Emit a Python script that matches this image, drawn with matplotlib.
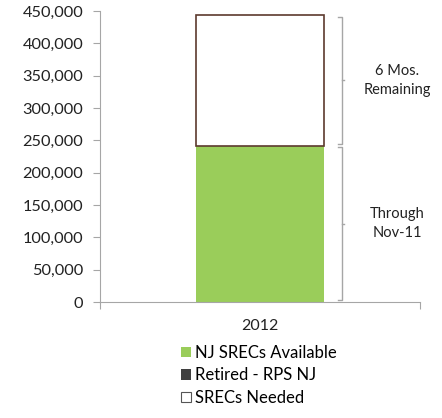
import matplotlib
matplotlib.use("Agg")
import matplotlib.pyplot as plt
from matplotlib.patches import Patch
from matplotlib.ticker import FuncFormatter

plt.rcParams['font.family'] = ['Lato', 'DejaVu Sans']

categories = ["2012"]
available = [242000]
retired = [0]
needed = [201500]
bracket_labels = ["Through\nNov-11", "6 Mos.\nRemaining"]
legend_labels = ["NJ SRECs Available", "Retired - RPS NJ", "SRECs Needed"]

green = "#9acd5a"
dark = "#404040"
edge = "#5c3a2e"
gray = "#a6a6a6"

fig = plt.figure(figsize=(4.42, 4.18), dpi=100)
ax = fig.add_axes([100/442, 1-302/418, 320/442, 291/418])

x = list(range(len(categories)))
ax.bar(x, available, width=0.4, color=green, edgecolor='none', zorder=2)
bottom2 = [a + r for a, r in zip(available, retired)]
ax.bar(x, retired, width=0.4, bottom=available, color=dark, edgecolor='none', zorder=2)
ax.bar(x, needed, width=0.4, bottom=bottom2, facecolor='white', edgecolor=edge, linewidth=1.2, zorder=2)

ax.set_xlim(-0.5, 0.5)
ax.set_ylim(0, 450000)
ax.set_yticks(range(0, 450001, 50000))
ax.yaxis.set_major_formatter(FuncFormatter(lambda v, p: f"{int(v):,}"))
ax.set_xticks([-0.5, 0.5])
ax.set_xticklabels(["", ""])
ax.tick_params(axis='x', length=5, color=gray, direction='out')
ax.tick_params(axis='y', length=5, color=gray, direction='out', labelsize=11.8, labelcolor='#222222', pad=7)
for s in ['top', 'right']:
    ax.spines[s].set_visible(False)
for s in ['left', 'bottom']:
    ax.spines[s].set_color(gray)
ax.text(0, -0.06, categories[0], transform=ax.get_xaxis_transform(), ha='center', va='top', fontsize=11.5, color='#222222')

# brackets
bx = 0.256
segs = [(0, available[0] + retired[0]), (available[0] + retired[0], available[0] + retired[0] + needed[0])]
for (lo, hi), lab in zip(segs, bracket_labels):
    lo2 = lo + 3000
    hi2 = hi - 3000
    ax.plot([bx - 0.012, bx, bx, bx - 0.012], [lo2, lo2, hi2, hi2], color=gray, lw=1, clip_on=False)
    mid = (lo + hi) / 2
    ax.plot([bx, bx + 0.008], [mid, mid], color=gray, lw=1, clip_on=False)
    ax.text(0.428, mid, lab, ha='center', va='center', fontsize=10.5, color='#222222', linespacing=1.45)

handles = [Patch(facecolor=green, edgecolor='none'),
           Patch(facecolor=dark, edgecolor='none'),
           Patch(facecolor='white', edgecolor='#555555', linewidth=0.8)]
fig.legend(handles, legend_labels, loc='upper left', bbox_to_anchor=(181/442, 1-345/418),
           frameon=False, fontsize=12, handlelength=0.6, handleheight=0.6, handletextpad=0.25,
           labelspacing=0.38, borderpad=0, borderaxespad=0)

fig.savefig("out.png", dpi=100)
